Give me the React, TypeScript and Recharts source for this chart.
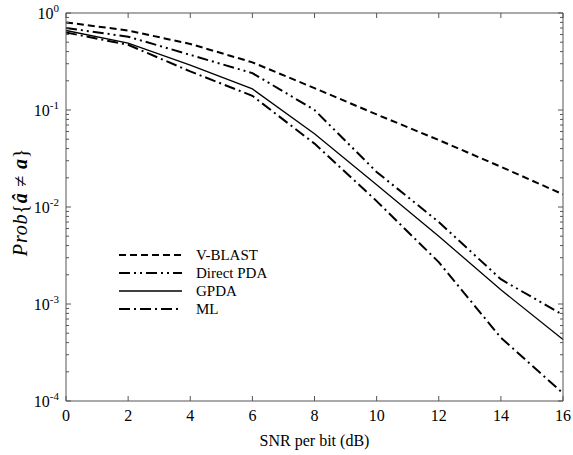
import React from 'react';
import { LineChart, Line, XAxis, YAxis, Legend } from 'recharts';

const snr = [0, 2, 4, 6, 8, 10, 12, 14, 16];
const vblast = [0.8, 0.66, 0.48, 0.31, 0.168, 0.09, 0.049, 0.026, 0.0135];
const directPda = [0.7, 0.57, 0.37, 0.24, 0.1, 0.023, 0.007, 0.0018, 0.00077];
const gpda = [0.66, 0.49, 0.29, 0.165, 0.057, 0.017, 0.005, 0.0014, 0.00043];
const ml = [0.63, 0.47, 0.25, 0.14, 0.045, 0.0115, 0.0027, 0.00045, 0.00012];

const xTicks = [0, 2, 4, 6, 8, 10, 12, 14, 16];
const yMajor = [1e-4, 1e-3, 1e-2, 1e-1, 1];

const series = [
  { key: 'vblast', name: 'V-BLAST', dash: '7 4', width: 2 },
  { key: 'direct', name: 'Direct PDA', dash: '11 4 2 4 2 4', width: 2 },
  { key: 'gpda', name: 'GPDA', dash: undefined as string | undefined, width: 1.3 },
  { key: 'ml', name: 'ML', dash: '11 4 2 4', width: 2 },
];

const data = snr.map((s, i) => ({
  snr: s,
  vblast: vblast[i],
  direct: directPda[i],
  gpda: gpda[i],
  ml: ml[i],
}));

const yTicks: number[] = [];
for (let i = 0; i < yMajor.length - 1; i++) {
  for (let k = 1; k <= 9; k++) yTicks.push(k * yMajor[i]);
}
yTicks.push(yMajor[yMajor.length - 1]);

const FONT = '"Liberation Serif", "Times New Roman", serif';
const AXIS = '#555';

const isMajor = (v: number) => {
  const l = Math.log10(v);
  return Math.abs(l - Math.round(l)) < 1e-9;
};

const LeftTick = (props: any) => {
  const { x, y, payload } = props;
  const v = payload.value;
  const major = isMajor(v);
  const exp = Math.round(Math.log10(v));
  return (
    <g>
      <line x1={x} x2={x + (major ? 5 : 3)} y1={y} y2={y} stroke={AXIS} strokeWidth={1} />
      {major && (
        <text x={x - 7} y={y + 6} textAnchor="end" fontFamily={FONT} fontSize={16} fill="#000">
          10
          <tspan dy={-7} fontSize={11}>{exp === 0 ? '0' : `-${Math.abs(exp)}`}</tspan>
        </text>
      )}
    </g>
  );
};

const RightTick = (props: any) => {
  const { x, y, payload } = props;
  const major = isMajor(payload.value);
  return <line x1={x} x2={x - (major ? 5 : 3)} y1={y} y2={y} stroke={AXIS} strokeWidth={1} />;
};

const BottomTick = (props: any) => {
  const { x, y, payload } = props;
  return (
    <g>
      <line x1={x} x2={x} y1={y} y2={y - 5} stroke={AXIS} strokeWidth={1} />
      <text x={x} y={y + 20} textAnchor="middle" fontFamily={FONT} fontSize={16} fill="#000">
        {payload.value}
      </text>
    </g>
  );
};

const TopTick = (props: any) => {
  const { x, y } = props;
  return <line x1={x} x2={x} y1={y} y2={y + 5} stroke={AXIS} strokeWidth={1} />;
};

const XLabel = (props: any) => {
  const vb = props.viewBox || {};
  return (
    <text x={vb.x + vb.width / 2} y={vb.y + 45} textAnchor="middle" fontFamily={FONT} fontSize={16} fill="#000">
      SNR per bit (dB)
    </text>
  );
};

const YLabel = (props: any) => {
  const vb = props.viewBox || {};
  const cx = vb.x + 19;
  const cy = vb.y + vb.height / 2 - 5;
  return (
    <text
      x={cx}
      y={cy}
      transform={`rotate(-90, ${cx}, ${cy})`}
      textAnchor="middle"
      fontFamily={FONT}
      fontSize={20}
      letterSpacing={0.8}
      fill="#000"
    >
      <tspan fontStyle="italic">Prob</tspan>
      <tspan>{'{'}</tspan>
      <tspan fontStyle="italic" fontWeight="bold">â</tspan>
      <tspan>{' ≠ '}</tspan>
      <tspan fontStyle="italic" fontWeight="bold">a</tspan>
      <tspan>{'}'}</tspan>
    </text>
  );
};

const LegendContent = () => (
  <svg width={200} height={80} style={{ display: 'block' }}>
    {series.map((cfg, i) => {
      const y = 9 + i * 18;
      return (
        <g key={cfg.key}>
          <line
            x1={0}
            x2={63}
            y1={y}
            y2={y}
            stroke="#000"
            strokeWidth={cfg.width}
            strokeDasharray={cfg.dash}
          />
          <text x={77} y={y + 5} fontFamily={FONT} fontSize={15} fill="#000">
            {cfg.name}
          </text>
        </g>
      );
    })}
  </svg>
);

export default function App() {
  return (
    <div style={{ position: 'absolute', left: 0, top: 0, width: 573, height: 455 }}>
      <LineChart width={573} height={455} data={data} margin={{ top: 8, right: 0, bottom: 0, left: 8 }}>
        <XAxis
          xAxisId="b"
          dataKey="snr"
          type="number"
          domain={[0, 16]}
          ticks={xTicks}
          interval={0}
          height={54}
          tickSize={0}
          tickMargin={0}
          tickLine={false}
          axisLine={{ stroke: AXIS }}
          tick={<BottomTick />}
          label={<XLabel />}
        />
        <XAxis
          xAxisId="t"
          orientation="top"
          dataKey="snr"
          type="number"
          domain={[0, 16]}
          ticks={xTicks}
          interval={0}
          height={5}
          tickSize={0}
          tickMargin={0}
          tickLine={false}
          axisLine={{ stroke: AXIS }}
          tick={<TopTick />}
        />
        <YAxis
          yAxisId="l"
          type="number"
          scale="log"
          domain={[1e-4, 1]}
          allowDataOverflow
          ticks={yTicks}
          interval={0}
          width={58}
          tickSize={0}
          tickMargin={0}
          tickLine={false}
          axisLine={{ stroke: AXIS }}
          tick={<LeftTick />}
          label={<YLabel />}
        />
        <YAxis
          yAxisId="r"
          orientation="right"
          type="number"
          scale="log"
          domain={[1e-4, 1]}
          allowDataOverflow
          ticks={yTicks}
          interval={0}
          width={10}
          tickSize={0}
          tickMargin={0}
          tickLine={false}
          axisLine={{ stroke: AXIS }}
          tick={<RightTick />}
        />
        <Legend
          layout="vertical"
          align="center"
          verticalAlign="middle"
          wrapperStyle={{ position: 'absolute', left: 119, top: 246, width: 200, height: 80 }}
          content={<LegendContent />}
        />
        {series.map((s) => (
          <Line
            key={s.key}
            xAxisId="b"
            yAxisId="l"
            type="linear"
            dataKey={s.key}
            name={s.name}
            stroke="#000"
            strokeWidth={s.width}
            strokeDasharray={s.dash}
            dot={false}
            activeDot={false}
            isAnimationActive={false}
          />
        ))}
        <Line
          xAxisId="t"
          yAxisId="r"
          type="linear"
          dataKey="vblast"
          name="hidden"
          stroke="none"
          dot={false}
          activeDot={false}
          legendType="none"
          isAnimationActive={false}
        />
      </LineChart>
    </div>
  );
}
